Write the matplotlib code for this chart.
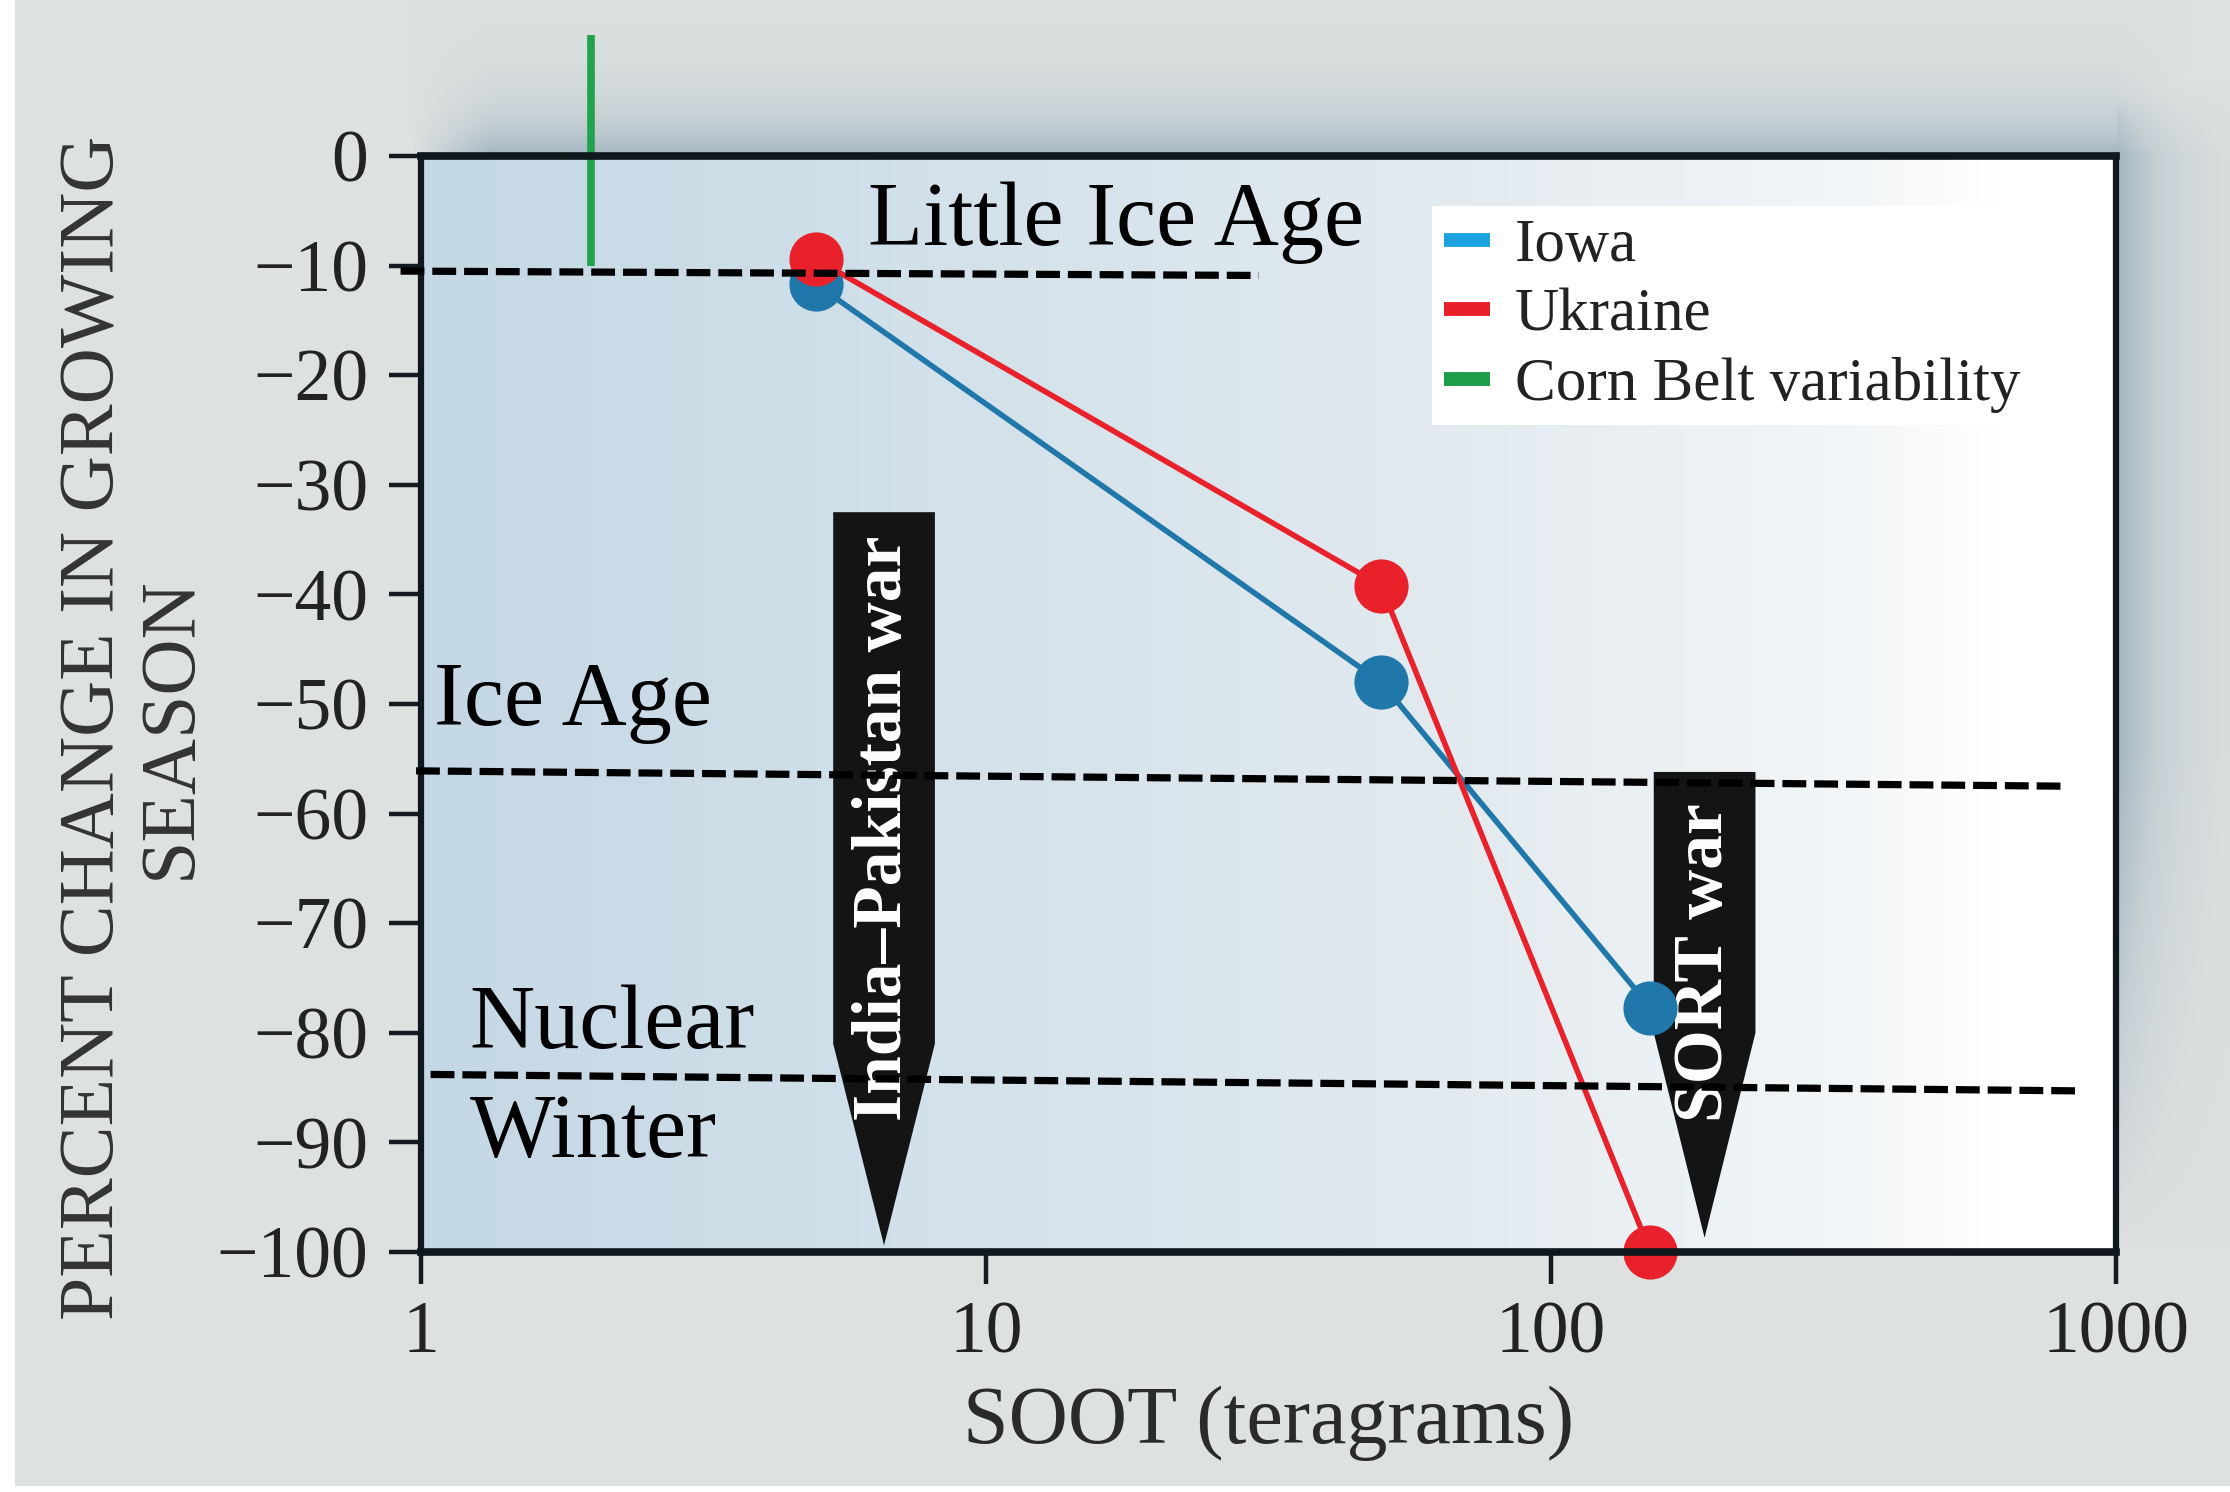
import numpy as np
import matplotlib.pyplot as plt
from matplotlib.lines import Line2D
from matplotlib.patches import Polygon

plt.rcParams['font.family'] = ['Liberation Serif', 'DejaVu Serif']

# data
soot_iowa = [5, 50, 150]
change_iowa = [-11.7, -48.0, -77.7]
soot_ukraine = [5, 50, 150]
change_ukraine = [-9.4, -39.2, -100.0]
corn_belt_soot = [2, 2]
corn_belt_change = [11, -10]

x_ticks = [1, 10, 100, 1000]
x_tick_labels = ['1', '10', '100', '1000']
y_ticks = [0, -10, -20, -30, -40, -50, -60, -70, -80, -90, -100]
y_tick_labels = [str(v).replace('-', '\u2212') for v in y_ticks]

# hand-drawn reference levels (dashed lines)
level_x = [[0.92, 30.4], [0.98, 812], [1.04, 860]]
level_y = [[-10.5, -10.9], [-56.1, -57.5], [-83.8, -85.3]]
level_text = ['Little Ice Age', 'Ice Age', 'Nuclear', 'Winter']
level_text_x = [6.17, 1.054, 1.22, 1.22]
level_text_y = [-8.1, -51.9, -81.4, -91.3]

# war scenario arrows
war_names = ['India\u2013Pakistan war', 'SORT war']
war_soot = [6.6, 187]
war_top = [-32.5, -56.2]
war_taper = [-81, -80]
war_tip = [-99.4, -98.7]
war_text_y = [-61.3, -73.6]

iowa_color = '#1f77aa'
ukraine_color = '#e8212a'
corn_color = '#21a24c'

W, H = 2230, 1492
fig = plt.figure(figsize=(W / 100, H / 100), dpi=100)

# page background with soft shadow around the plot box
x0, x1, y0, y1 = 421, 2116, 156, 1252
yy, xx = np.mgrid[0:H, 0:W].astype(float)
d_top = y0 - yy
a_top = np.exp(-np.clip(d_top, 0, None) / 40) * (d_top > 0)
a_top *= np.clip((xx - x0 + 10) / 80, 0, 1) * np.clip((x1 + 70 - xx) / 70, 0, 1)
d_right = xx - x1
a_right = np.exp(-np.clip(d_right, 0, None) / 45) * (d_right > 0)
a_right *= np.clip((y1 - yy) / 500, 0, 1) * np.clip((yy - y0 + 80) / 80, 0, 1)
alpha = np.maximum(a_top, a_right)[..., None] * 0.85
bg_col = np.array([221, 225, 224]) / 255
sh_col = np.array([150, 172, 188]) / 255
page = bg_col * (1 - alpha) + sh_col * alpha
page[:, :15] = 1.0
page[H - 6:, :] = 1.0

bg = fig.add_axes([0, 0, 1, 1], zorder=-10)
bg.imshow(page, aspect='auto', extent=(0, 1, 0, 1), interpolation='bilinear')
bg.axis('off')

ax = fig.add_axes([x0 / W, 1 - y1 / H, (x1 - x0) / W, (y1 - y0) / H])
ax.patch.set_alpha(0)

# blue-to-white gradient inside the plot area
stops = [0, 0.3, 0.6, 0.85, 0.93, 1.0]
cols = np.array([[196, 216, 229], [210, 225, 234], [226, 234, 239],
                 [243, 246, 248], [255, 255, 255], [255, 255, 255]]) / 255
t = np.linspace(0, 1, 400)
grad = np.stack([np.interp(t, stops, cols[:, i]) for i in range(3)], axis=-1)
ax.imshow(grad[None, :, :], aspect='auto', extent=(0, 1, 0, 1),
          transform=ax.transAxes, zorder=0, interpolation='bilinear')

ax.set_xscale('log')
ax.set_xlim(1, 1000)
ax.set_ylim(-100, 0)

# war arrows
hw = 0.09
for name, c, top, taper, tip, ty in zip(war_names, war_soot, war_top, war_taper, war_tip, war_text_y):
    left, right = c * 10 ** -hw, c * 10 ** hw
    poly = Polygon([(left, top), (right, top), (right, taper), (c, tip), (left, taper)],
                   closed=True, facecolor='#141414', edgecolor='none', zorder=3)
    ax.add_patch(poly)
    ax.text(c, ty, name, rotation=90, ha='center', va='center', color='white',
            fontsize=50, fontweight='bold', zorder=4)

ax.plot(corn_belt_soot, corn_belt_change, color=corn_color, lw=5.5,
        solid_capstyle='butt', clip_on=False, zorder=5)
ax.plot(soot_iowa, change_iowa, color=iowa_color, lw=4, marker='o', ms=38,
        clip_on=False, zorder=5)
ax.plot(soot_ukraine, change_ukraine, color=ukraine_color, lw=4, marker='o', ms=38,
        clip_on=False, zorder=6)

for lx, ly in zip(level_x, level_y):
    ax.plot(lx, ly, color='black', lw=5.2, dashes=(3.3, 1.1), clip_on=False, zorder=8)

for s, tx, ty in zip(level_text, level_text_x, level_text_y):
    ax.text(tx, ty, s, fontsize=65, color='black', ha='left', va='baseline', zorder=7)

ax.set_xticks(x_ticks, x_tick_labels)
ax.xaxis.set_minor_locator(plt.NullLocator())
ax.set_yticks(y_ticks, y_tick_labels)
ax.tick_params(axis='both', direction='out', length=23, width=3.2, labelsize=53,
               colors='#141a20', labelcolor='#222222')
ax.tick_params(axis='y', pad=15)
ax.tick_params(axis='x', pad=12)

for side in ['top', 'bottom']:
    ax.spines[side].set_linewidth(5.5)
for side in ['left', 'right']:
    ax.spines[side].set_linewidth(4.5)
for sp in ax.spines.values():
    sp.set_color('#10171d')
    sp.set_zorder(6)

ax.set_xlabel('SOOT (teragrams)', fontsize=59, color='#2a2a2a')
ax.xaxis.set_label_coords(0.5, -0.156)
ax.xaxis.label.set_va('center')
ax.set_ylabel('PERCENT CHANGE IN GROWING\nSEASON', fontsize=56, color='#333333',
              linespacing=1.1)
ax.yaxis.set_label_coords(-0.170, 0.478)
ax.yaxis.label.set_va('center')

handles = [Line2D([0], [0], color='#1ba3e0', lw=10, solid_capstyle='butt'),
           Line2D([0], [0], color='#e8202a', lw=10, solid_capstyle='butt'),
           Line2D([0], [0], color='#1e9e48', lw=10, solid_capstyle='butt')]
leg = ax.legend(handles, ['Iowa', 'Ukraine', 'Corn Belt variability'],
                loc='upper left', bbox_to_anchor=(0.5965, 0.954), borderaxespad=0,
                fontsize=44, handlelength=0.75, handletextpad=0.4, labelspacing=0.22,
                borderpad=0.2, frameon=True, fancybox=False, framealpha=1,
                facecolor='white', edgecolor='none')
leg.set_zorder(10)
for txt in leg.get_texts():
    txt.set_color('#222222')

fig.savefig('out.png', dpi=100)
